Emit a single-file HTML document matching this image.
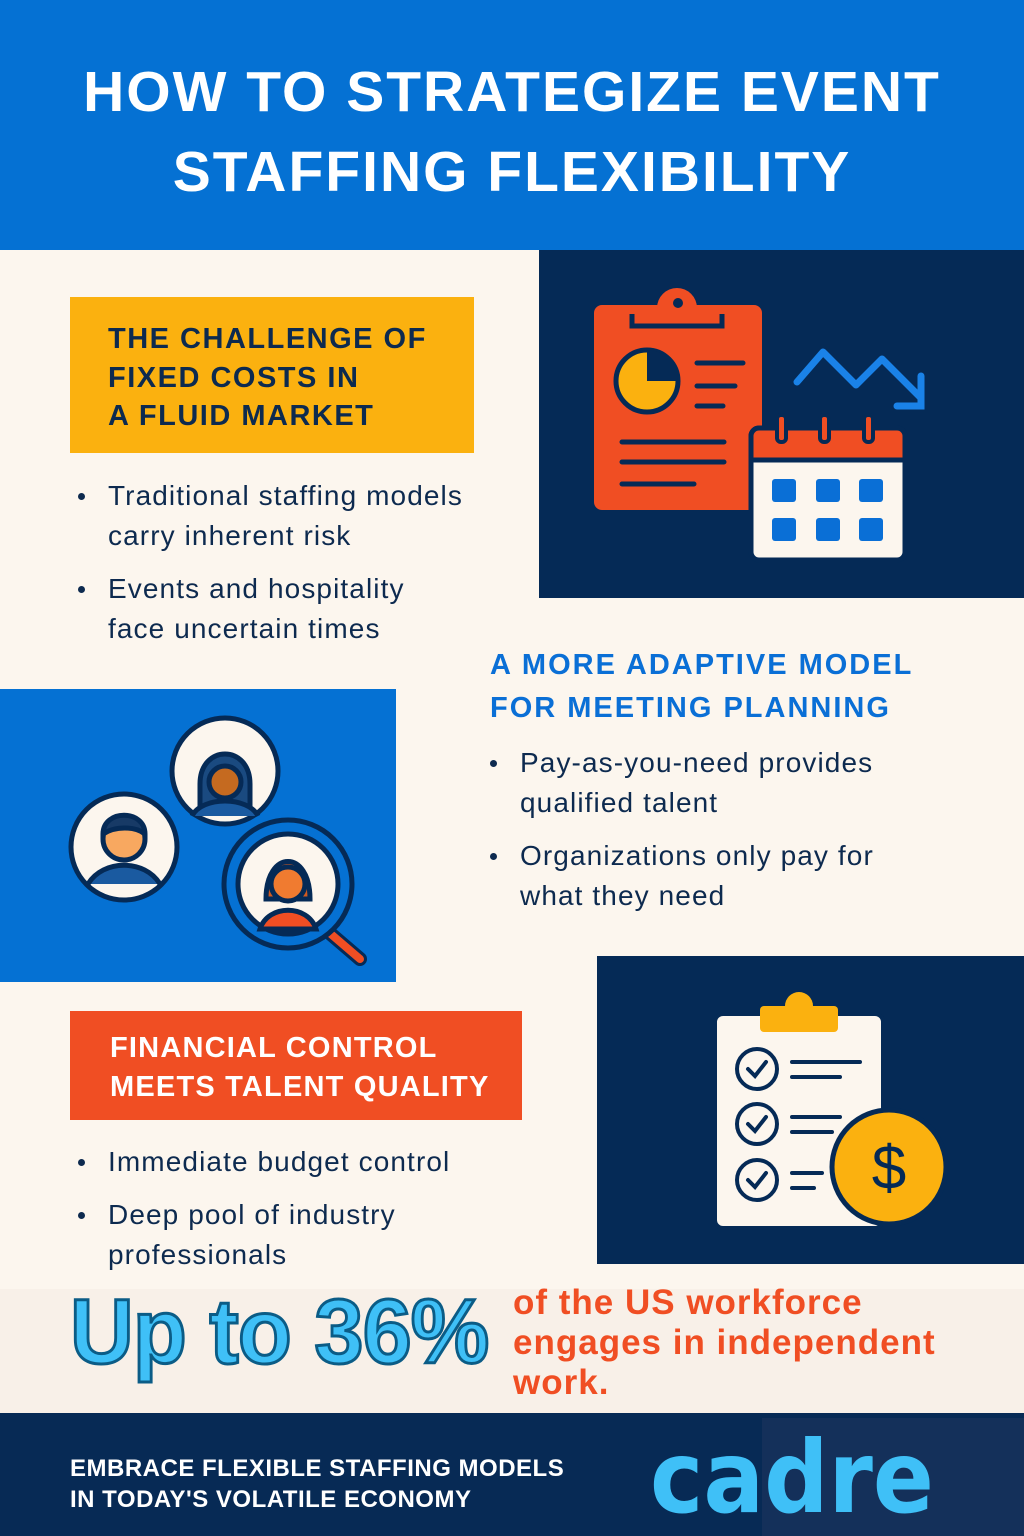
<!DOCTYPE html>
<html><head><meta charset="utf-8"><style>
*{margin:0;padding:0;box-sizing:border-box}
body{width:1024px;height:1536px;position:relative;background:#fcf6ee;font-family:"Liberation Sans","DejaVu Sans",sans-serif;overflow:hidden}
.a{position:absolute}
.t{color:#fff;font-weight:bold;font-size:57px;text-align:center;width:1024px;left:0;letter-spacing:2px;line-height:80px}
.h{font-weight:bold;font-size:29px;line-height:38.5px;letter-spacing:1.5px}
.b{font-size:28px;color:#0d2a4f;line-height:40px;letter-spacing:1.1px;white-space:nowrap}
.b li{list-style:none;position:relative;padding-left:28px;margin-bottom:13px}
.b li:before{content:"";position:absolute;left:-2px;top:17px;width:7px;height:7px;border-radius:50%;background:#0d2a4f}
</style></head><body>
<div class="a" style="left:0;top:0;width:1024px;height:250px;background:#0571d3"></div>
<div class="a t" style="top:52px">HOW TO STRATEGIZE EVENT<br>STAFFING FLEXIBILITY</div>

<div class="a" style="left:539px;top:250px;width:485px;height:348px;background:#052a56"></div>
<svg class="a" style="left:539px;top:250px" width="485" height="348" viewBox="0 0 485 348">
<rect x="55" y="55" width="168" height="205" rx="8" fill="#f04e23"/>
<path d="M118 58 a20 20 0 0 1 40 0z" fill="#f04e23"/><circle cx="139" cy="53" r="5" fill="#052a56"/>
<path d="M93 64v12h90v-12" stroke="#052a56" stroke-width="5" fill="none"/>
<circle cx="108" cy="131" r="31" fill="#fbb10f" stroke="#052a56" stroke-width="5"/>
<path d="M108 131v-31a31 31 0 0 1 31 31z" fill="#052a56"/>
<g stroke="#052a56" stroke-width="5" stroke-linecap="round"><path d="M158 113h46M158 136h38M158 156h26M83 192h102M83 212h102M83 234h72"/></g>
<rect x="212" y="178" width="154" height="132" rx="8" fill="#fcf6ee" stroke="#052a56" stroke-width="5"/>
<path d="M212 186a8 8 0 0 1 8-8h138a8 8 0 0 1 8 8v24h-154z" fill="#f04e23" stroke="#052a56" stroke-width="5"/>
<g stroke="#052a56" stroke-width="4" fill="#f04e23"><rect x="238" y="165" width="9" height="27" rx="4"/><rect x="281" y="165" width="9" height="27" rx="4"/><rect x="325" y="165" width="9" height="27" rx="4"/></g>
<g fill="#0a6fd6"><rect x="233" y="229" width="24" height="23" rx="3"/><rect x="277" y="229" width="24" height="23" rx="3"/><rect x="320" y="229" width="24" height="23" rx="3"/><rect x="233" y="268" width="24" height="23" rx="3"/><rect x="277" y="268" width="24" height="23" rx="3"/><rect x="320" y="268" width="24" height="23" rx="3"/></g>
<path d="M258 132l26-30 33 33 26-26 38 38" stroke="#1a82e8" stroke-width="7" fill="none" stroke-linecap="round" stroke-linejoin="round"/>
<path d="M382 126v30h-24" stroke="#1a82e8" stroke-width="7" fill="none" stroke-linecap="round"/>
</svg>

<div class="a" style="left:70px;top:297px;width:404px;height:156px;background:#fbb10f"></div>
<div class="a h" style="left:108px;top:320px;color:#0d2a4f">THE CHALLENGE OF<br>FIXED COSTS IN<br>A FLUID MARKET</div>
<ul class="a b" style="left:80px;top:476px"><li>Traditional staffing models<br>carry inherent risk</li><li>Events and hospitality<br>face uncertain times</li></ul>

<div class="a" style="left:0;top:689px;width:396px;height:293px;background:#0571d3"></div>
<svg class="a" style="left:0;top:689px" width="396" height="293" viewBox="0 0 396 293">
<g stroke="#052a56" stroke-width="5">
<circle cx="225" cy="82" r="53" fill="#fcf6ee"/>
<path d="M200 95c0-40 50-40 50 0v25h-50z" fill="#1a4a80"/><circle cx="225" cy="93" r="16" fill="#c56a20"/>
<path d="M192 127c10-20 56-20 66 0" fill="#1a5aa0"/>
<circle cx="124" cy="158" r="53" fill="#fcf6ee"/>
<circle cx="124" cy="150" r="21" fill="#f8a860"/><path d="M103 145c0-25 42-25 42 0c-10-8-30-8-42 0z" fill="#173a66"/>
<path d="M88 195c15-25 57-25 72 0" fill="#1a5aa0"/>
<path d="M325 240l35 30" stroke-width="14" stroke-linecap="round"/>
<path d="M325 240l35 30" stroke="#f04e23" stroke-width="8" stroke-linecap="round"/>
<circle cx="288" cy="195" r="64" fill="#0571d3"/><circle cx="288" cy="195" r="50" fill="#fcf6ee"/>
<path d="M266 210c0-50 44-50 44 0z" fill="#d05a20"/><circle cx="288" cy="195" r="17" fill="#f07b30"/>
<path d="M260 240c8-25 48-25 56 0z" fill="#f04e23"/>
</g></svg>

<div class="a h" style="left:490px;top:644px;color:#0a6fd6;line-height:43px;letter-spacing:2px">A MORE ADAPTIVE MODEL<br>FOR MEETING PLANNING</div>
<ul class="a b" style="left:492px;top:743px"><li>Pay-as-you-need provides<br>qualified talent</li><li>Organizations only pay for<br>what they need</li></ul>

<div class="a" style="left:597px;top:956px;width:427px;height:308px;background:#052a56"></div>
<svg class="a" style="left:597px;top:956px" width="427" height="308" viewBox="0 0 427 308">
<rect x="118" y="58" width="168" height="214" rx="8" fill="#fcf6ee" stroke="#052a56" stroke-width="4"/>
<rect x="163" y="50" width="78" height="26" rx="4" fill="#fbb10f"/><path d="M188 50a14 14 0 0 1 28 0z" fill="#fbb10f"/>
<g stroke="#052a56" stroke-width="4" fill="none" stroke-linecap="round">
<circle cx="160" cy="113" r="20"/><circle cx="160" cy="168" r="20"/><circle cx="160" cy="224" r="20"/>
<path d="M151 113l7 7 11-14M151 168l7 7 11-14M151 224l7 7 11-14"/>
<path d="M195 106h68M195 121h48M195 161h48M195 176h40M195 217h30M195 232h22"/></g>
<circle cx="292" cy="211" r="57" fill="#fbb10f" stroke="#052a56" stroke-width="5"/>
<text x="292" y="233" font-size="62" text-anchor="middle" fill="#052a56" font-family="Liberation Sans">$</text>
</svg>

<div class="a" style="left:70px;top:1011px;width:452px;height:109px;background:#f04e23"></div>
<div class="a h" style="left:110px;top:1029px;color:#fff;font-size:29px;line-height:39px;letter-spacing:1.2px">FINANCIAL CONTROL<br>MEETS TALENT QUALITY</div>
<ul class="a b" style="left:80px;top:1142px"><li>Immediate budget control</li><li>Deep pool of industry<br>professionals</li></ul>

<div class="a" style="left:0;top:1289px;width:1024px;height:124px;background:#f8f0e8"></div>
<div class="a" style="left:70px;top:1280px;font-size:92px;font-weight:bold;color:#3fc0f7;-webkit-text-stroke:3px #0b5c86;letter-spacing:-1px;white-space:nowrap;transform:scaleX(0.96);transform-origin:0 0">Up to 36%</div>
<div class="a" style="left:513px;top:1283px;font-size:35px;font-weight:bold;color:#f04e23;line-height:40px;letter-spacing:1px;white-space:nowrap">of the US workforce<br>engages in independent<br>work.</div>

<div class="a" style="left:0;top:1413px;width:1024px;height:123px;background:#072a55"></div>
<div class="a" style="left:762px;top:1418px;width:262px;height:118px;background:#14305a"></div>
<div class="a" style="left:70px;top:1453px;font-size:24px;font-weight:bold;color:#fff;line-height:31px;letter-spacing:.5px">EMBRACE FLEXIBLE STAFFING MODELS<br>IN TODAY'S VOLATILE ECONOMY</div>
<div class="a" style="left:650px;top:1428px;font-size:100px;line-height:100px;font-weight:bold;color:#3fc0f7;font-family:'DejaVu Sans',sans-serif;white-space:nowrap;transform:scaleX(0.9);transform-origin:0 0">cadre</div>
</body></html>
